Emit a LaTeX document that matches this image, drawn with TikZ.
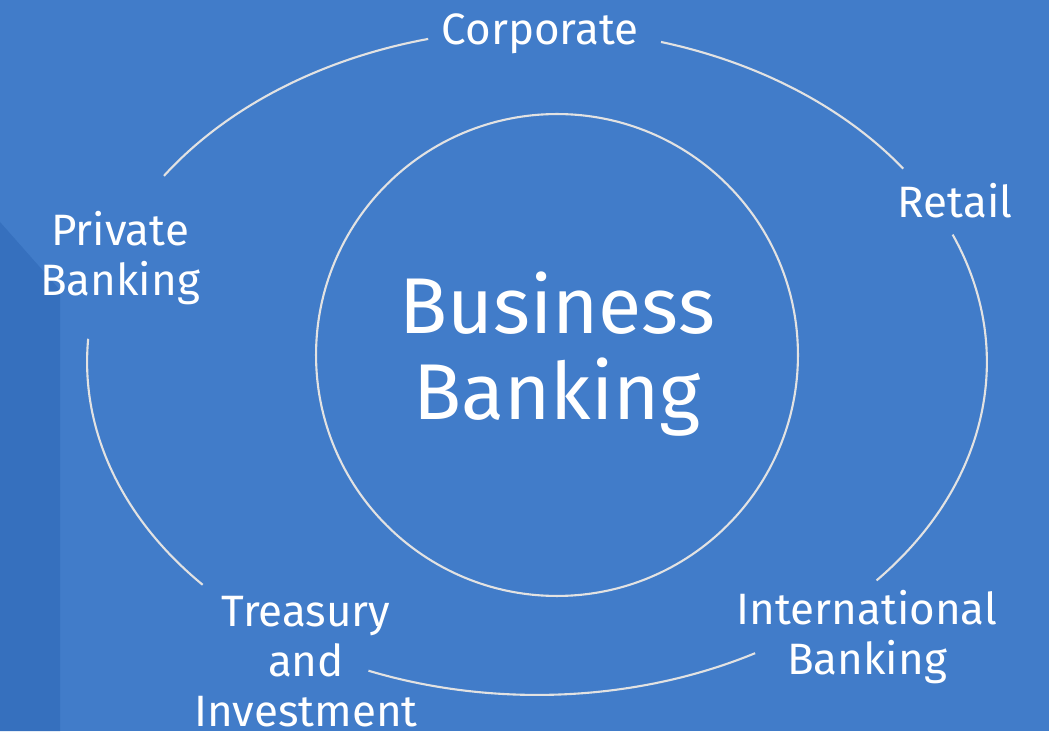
\documentclass[tikz,border=0pt]{standalone}
\usepackage{fontspec}
\setmainfont{Fira Sans}

\definecolor{bgblue}{HTML}{417CC9}
\definecolor{stripblue}{HTML}{3670BE}
\definecolor{ringgray}{HTML}{E2E2E2}

\tikzset{
  ring/.style={ringgray, line width=1.2pt},
  sector/.style={white, align=center, font=\fontsize{25}{28.5}\selectfont},
}

\begin{document}
\begin{tikzpicture}[x=0.02cm, y=0.02cm]
        % Background and left strip
        \fill[bgblue] (0,0) rectangle (1049,731);
        \useasboundingbox (0,0) rectangle (1049,731);
        \fill[stripblue] (0,509) -- (60,441) -- (60,0) -- (0,0) -- cycle;

        % Centre circle
        \coordinate (hub) at (557,376);
        \draw[ring] (hub) circle (4.82cm);
        \node[white, align=center, font=\fontsize{45}{48.5}\selectfont] (core) at (557,377) {Business\\Banking};

        % Outer ring, broken at each label
        \coordinate (mid) at (537,369);
        \draw[ring] (mid) ++(104:9cm and 6.66cm) arc[start angle=104, end angle=146, x radius=9cm, y radius=6.66cm];
        \draw[ring] (mid) ++(176:9cm and 6.66cm) arc[start angle=176, end angle=222, x radius=9cm, y radius=6.66cm];
        \draw[ring] (mid) ++(248:9cm and 6.66cm) arc[start angle=248, end angle=299, x radius=9cm, y radius=6.66cm];
        \draw[ring] (mid) ++(-41:9cm and 6.66cm) arc[start angle=-41, end angle=22.5, x radius=9cm, y radius=6.66cm];
        \draw[ring] (mid) ++(35.5:9cm and 6.66cm) arc[start angle=35.5, end angle=74, x radius=9cm, y radius=6.66cm];

        % Sector labels
        \node[sector] (corp) at (540,697) {Corporate};
        \node[sector] (retail) at (955,530) {Retail};
        \node[sector] (intl) at (867,94) {International\\Banking};
        \node[sector] (treasury) at (306,69) {Treasury\\and\\Investment};
        \node[sector] (private) at (120,473) {Private\\Banking};
    \end{tikzpicture}
\end{document}
